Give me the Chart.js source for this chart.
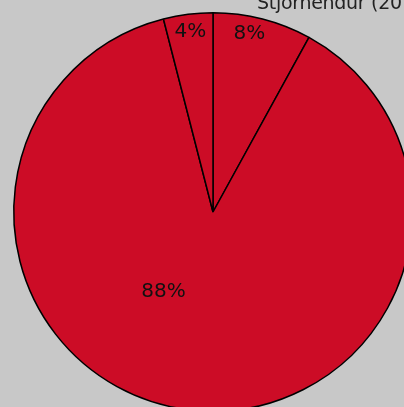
<!DOCTYPE html>
<html>
<head>
<meta charset="utf-8">
<script src="https://cdn.jsdelivr.net/npm/chart.js@4.4.3/dist/chart.umd.min.js"></script>
<style>
  html, body { margin: 0; padding: 0; background: #c8c8c8; overflow: hidden; width: 404px; height: 407px; }
  #wrap { position: absolute; left: 0; top: 0; width: 426px; height: 424px; }
  #title { position: absolute; left: 257px; top: -9px; font: 19px "DejaVu Sans", sans-serif; color: #222; white-space: nowrap; letter-spacing: -0.3px; }
</style>
</head>
<body>
<div id="wrap"><canvas id="pie"></canvas></div>
<div id="title">Stjórnendur (2018)</div>
<script>
const labels = ['A', 'B', 'C'];
const values = [8, 88, 4];
const valueText = ['8%', '88%', '4%'];
// where each label sits: fraction along its slice, fraction of radius
const labelAngleFrac = [0.4, 0.578, 0.5];
const labelRadiusFrac = [0.915, 0.47, 0.91];

const pieLabels = {
    id: 'pieLabels',
    afterDatasetsDraw(chart) {
        const c = chart.ctx;
        const arcs = chart.getDatasetMeta(0).data;
        c.save();
        c.font = '20px "DejaVu Sans", sans-serif';
        c.fillStyle = '#111';
        c.textAlign = 'center';
        c.textBaseline = 'middle';
        arcs.forEach((arc, i) => {
            const a = arc.startAngle + (arc.endAngle - arc.startAngle) * labelAngleFrac[i];
            const r = arc.outerRadius * labelRadiusFrac[i];
            c.fillText(valueText[i], arc.x + Math.cos(a) * r, arc.y + Math.sin(a) * r);
        });
        c.restore();
    }
};

new Chart(document.getElementById('pie'), {
    type: 'pie',
    data: {
        labels: labels,
        datasets: [{
            data: values,
            backgroundColor: '#cc0c26',
            borderColor: '#000',
            borderWidth: 1.5
        }]
    },
    options: {
        responsive: true,
        maintainAspectRatio: false,
        animation: false,
        layout: { padding: 12 },
        plugins: { legend: { display: false }, tooltip: { enabled: false } }
    },
    plugins: [pieLabels]
});
</script>
</body>
</html>
